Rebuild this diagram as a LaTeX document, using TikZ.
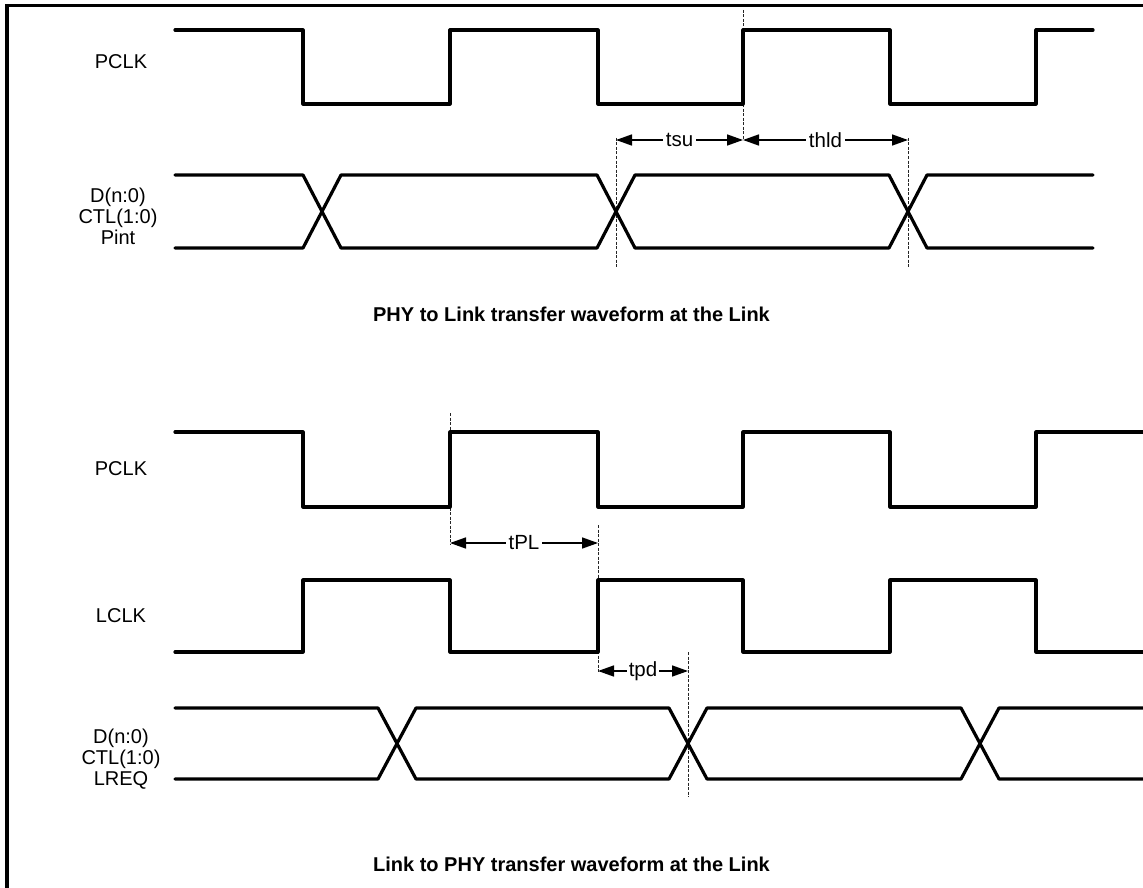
\documentclass[tikz,border=0pt]{standalone}
\usepackage{fontspec}
\setmainfont{Liberation Sans}
\usetikzlibrary{arrows.meta}
\begin{document}
\begin{tikzpicture}[x=1pt,y=-1pt,
  wave/.style={line width=3.2pt,line join=round,line cap=round},
  guide/.style={line width=1pt,dash pattern=on 3pt off 1.5pt,black!85},
  dim/.style={line width=1.5pt,{Triangle[length=16pt,width=11pt]}-{Triangle[length=16pt,width=11pt]}},
  dimlabel/.style={fill=white,inner xsep=3pt,inner ysep=1pt,font=\fontsize{20.5}{21}\selectfont},
  siglabel/.style={align=center,font=\fontsize{20}{21}\selectfont,inner sep=0pt},
  caption/.style={font=\fontsize{20}{22}\selectfont\bfseries,inner sep=0pt}]
\useasboundingbox (0,0) rectangle (1143,888);
\clip (0,0) rectangle (1143,888);
\fill[white] (0,0) rectangle (1143,888);
% border
\draw[line width=3.4pt] (7,905) -- (7,5.5) -- (1160,5.5);

% ---------- top section ----------
\node[siglabel] (pclkA) at (121,62) {PCLK};
\node[siglabel] (dataA) at (118,216) {D(n:0)\\CTL(1:0)\\Pint};

% guides (behind waveforms)
\coordinate (gA1t) at (743,10);  \coordinate (gA1b) at (743,140);
\coordinate (gA2t) at (616,138); \coordinate (gA2b) at (616,268);
\coordinate (gA3t) at (908,138); \coordinate (gA3b) at (908,268);
\draw[guide] (gA1t) -- (gA1b);
\draw[guide] (gA2t) -- (gA2b);
\draw[guide] (gA3t) -- (gA3b);

\draw[wave] (175,30) -- (303,30) -- (303,104) -- (450,104) -- (450,30) -- (598,30) -- (598,104)
  -- (743,104) -- (743,30) -- (890,30) -- (890,104) -- (1036,104) -- (1036,30) -- (1093,30);
\draw[wave] (175,175) -- (303,175) -- (341,248) -- (597,248) -- (635,175) -- (889,175) -- (927,248) -- (1093,248);
\draw[wave] (175,248) -- (303,248) -- (341,175) -- (597,175) -- (635,248) -- (889,248) -- (927,175) -- (1093,175);

\coordinate (tsuL) at (616,140); \coordinate (tsuR) at (743,140);
\coordinate (thldR) at (908,140);
\draw[dim] (tsuL) -- node[dimlabel] (tsu) {tsu} (tsuR);
\draw[dim] (tsuR) -- node[dimlabel] (thld) {thld} (thldR);

\node[caption] (capA) at (571.5,314) {PHY to Link transfer waveform at the Link};

% ---------- bottom section ----------
\node[siglabel] (pclkB) at (121,469) {PCLK};
\node[siglabel] (lclkB) at (121,616) {LCLK};
\node[siglabel] (dataB) at (121,759) {D(n:0)\\CTL(1:0)\\LREQ};

\coordinate (gB1t) at (450,413); \coordinate (gB1b) at (450,545);
\coordinate (gB2t) at (598,525); \coordinate (gB2b) at (598,672);
\coordinate (gB3t) at (688,652); \coordinate (gB3b) at (688,797);
\draw[guide] (gB1t) -- (gB1b);
\draw[guide] (gB2t) -- (gB2b);
\draw[guide] (gB3t) -- (gB3b);

\draw[wave] (175,432) -- (303,432) -- (303,507) -- (450,507) -- (450,432) -- (598,432) -- (598,507)
  -- (743,507) -- (743,432) -- (890,432) -- (890,507) -- (1036,507) -- (1036,432) -- (1160,432);
\draw[wave] (175,652) -- (303,652) -- (303,580) -- (450,580) -- (450,652) -- (598,652) -- (598,580)
  -- (743,580) -- (743,652) -- (890,652) -- (890,580) -- (1036,580) -- (1036,652) -- (1160,652);
\draw[wave] (175,708) -- (378,708) -- (416,779) -- (669,779) -- (707,708) -- (961,708) -- (999,779) -- (1160,779);
\draw[wave] (175,779) -- (378,779) -- (416,708) -- (669,708) -- (707,779) -- (961,779) -- (999,708) -- (1160,708);

\coordinate (tPLL) at (450,543); \coordinate (tPLR) at (598,543);
\coordinate (tpdL) at (598,671); \coordinate (tpdR) at (688,671);
\draw[dim] (tPLL) -- node[dimlabel] (tPL) {tPL} (tPLR);
\draw[dim] (tpdL) -- node[dimlabel,inner xsep=2pt] (tpd) {tpd} (tpdR);

\node[caption] (capB) at (571.5,864) {Link to PHY transfer waveform at the Link};
\end{tikzpicture}
\end{document}
